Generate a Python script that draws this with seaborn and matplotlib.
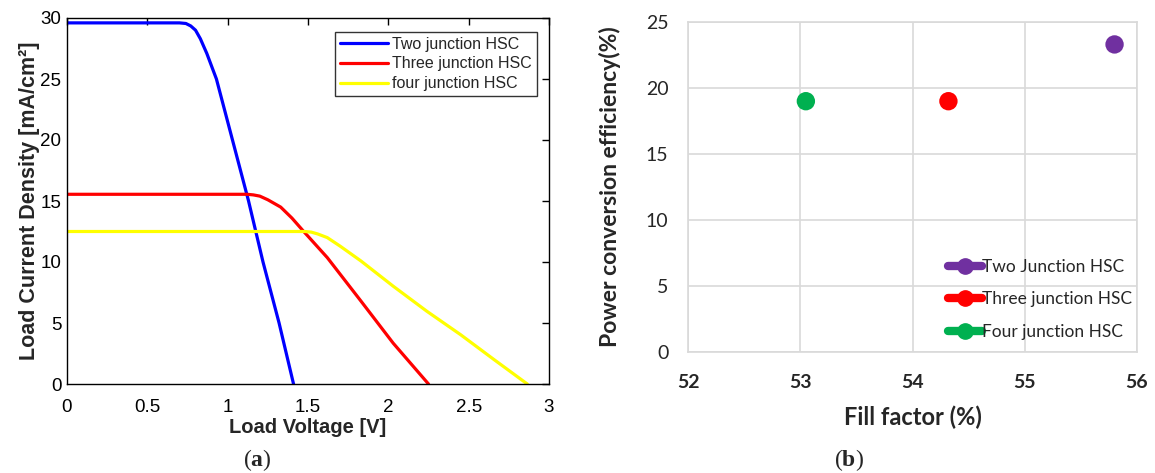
import numpy as np
import pandas as pd
import matplotlib.pyplot as plt
import seaborn as sns
from matplotlib.lines import Line2D

# (a) J-V curves
v_two = [0, 0.70, 0.74, 0.77, 0.80, 0.83, 0.87, 0.93, 1.03, 1.13, 1.22, 1.32, 1.41]
j_two = [29.6, 29.6, 29.55, 29.35, 29.0, 28.3, 27.1, 25.0, 20.0, 15.0, 10.0, 5.0, 0]

v_three = [0, 1.12, 1.16, 1.20, 1.25, 1.33, 1.40, 1.47, 1.62, 1.83, 2.03, 2.25]
j_three = [15.55, 15.55, 15.5, 15.4, 15.1, 14.5, 13.6, 12.55, 10.36, 6.79, 3.35, 0]

v_four = [0, 1.48, 1.52, 1.56, 1.62, 1.70, 1.83, 2.03, 2.24, 2.45, 2.66, 2.865]
j_four = [12.5, 12.5, 12.45, 12.3, 12.0, 11.3, 10.08, 8.02, 5.96, 4.04, 1.98, 0]

curve_labels = ['Two junction HSC', 'Three junction HSC', 'four junction HSC']
curve_colors = ['#0000ff', '#ff0000', '#ffff00']

# (b) fill factor vs efficiency
cells = ['Two Junction HSC', 'Three junction HSC', 'Four junction HSC']
fill_factor = [55.80, 54.32, 53.05]
efficiency = [23.3, 19.0, 19.0]
cell_colors = ['#7030a0', '#ff0000', '#00b050']

sns.set_theme(style='white')
plt.rcParams['font.family'] = ['Liberation Sans', 'DejaVu Sans']
plt.rcParams['mathtext.fontset'] = 'custom'
plt.rcParams['mathtext.rm'] = 'Liberation Serif'
plt.rcParams['mathtext.bf'] = 'Liberation Serif:bold'

fig = plt.figure(figsize=(11.55, 4.73), dpi=100)

# ---- panel a
ax1 = fig.add_axes([67 / 1155, 1 - 384 / 473, 482 / 1155, 366 / 473])
for v, j, lab, c in zip([v_two, v_three, v_four], [j_two, j_three, j_four],
                        curve_labels, curve_colors):
    df = pd.DataFrame({'V': v, 'J': j})
    sns.lineplot(data=df, x='V', y='J', sort=False, color=c, lw=2.3,
                 label=lab, ax=ax1)

ax1.set_xlim(0, 3)
ax1.set_ylim(0, 30)
ax1.set_xticks(np.arange(0, 3.01, 0.5))
ax1.set_xticklabels(['0', '0.5', '1', '1.5', '2', '2.5', '3'])
ax1.set_yticks(np.arange(0, 31, 5))
ax1.tick_params(direction='in', top=True, right=True, length=5, width=1,
                labelsize=13.5, colors='black')
ax1.tick_params(axis='x', pad=11)
ax1.tick_params(axis='y', pad=4)
for s in ax1.spines.values():
    s.set_color('black')
    s.set_linewidth(1.0)
ax1.set_xlabel('Load Voltage [V]', fontsize=14.5, fontweight='bold', labelpad=1)
ax1.set_ylabel('Load Current Density [mA/cm²]', fontsize=15.5,
               fontweight='bold', labelpad=0)
leg1 = ax1.legend(loc='upper right', bbox_to_anchor=(0.975, 0.962), fontsize=11.5,
                  frameon=True, fancybox=False, edgecolor='black',
                  handlelength=3.0, handletextpad=0.3, borderpad=0.3,
                  labelspacing=0.3, borderaxespad=0)
leg1.get_frame().set_linewidth(1.0)

# ---- panel b
ax2 = fig.add_axes([688 / 1155, 1 - 352 / 473, 449 / 1155, 330 / 473])
dfb = pd.DataFrame({'ff': fill_factor, 'pce': efficiency, 'cell': cells})
sns.scatterplot(data=dfb, x='ff', y='pce', hue='cell', palette=cell_colors,
                s=175, edgecolor='none', legend=False, ax=ax2, zorder=3)
ax2.set_xlim(52, 56)
ax2.set_ylim(0, 25)
ax2.set_xticks([52, 53, 54, 55, 56])
ax2.set_yticks(np.arange(0, 26, 5))
ax2.grid(True, color='#d9d9d9', lw=1.2)
for s in ax2.spines.values():
    s.set_color('#d9d9d9')
    s.set_linewidth(1.2)
ax2.tick_params(length=0, labelsize=14, colors='#262626')
ax2.tick_params(axis='y', pad=14)
ax2.tick_params(axis='x', pad=16)
for t in ax2.get_xticklabels() + ax2.get_yticklabels():
    t.set_family(['Lato', 'DejaVu Sans'])
for t in ax2.get_xticklabels():
    t.set_fontweight('bold')
ax2.set_xlabel('Fill factor (%)', fontsize=17, fontweight='bold',
               family=['Lato', 'DejaVu Sans'], labelpad=10)
ax2.set_ylabel('Power conversion efficiency(%)', fontsize=16.5, fontweight='bold',
               family=['Lato', 'DejaVu Sans'], labelpad=18)

handles = [Line2D([0], [0], color=c, lw=6, marker='o', markersize=11,
                  solid_capstyle='round') for c in cell_colors]
ax2.legend(handles, cells, loc='lower right', bbox_to_anchor=(1.025, -0.01),
           frameon=False, handlelength=2.0, handletextpad=0.0,
           labelspacing=0.95, prop={'family': ['Lato', 'DejaVu Sans'], 'size': 12.5})

# panel captions
fig.text(257 / 1155, 1 - 460 / 473, r'($\mathbf{a}$)', fontsize=17,
         family='Liberation Serif', ha='center', va='center')
fig.text(849 / 1155, 1 - 460 / 473, r'($\mathbf{b}$)', fontsize=17,
         family='Liberation Serif', ha='center', va='center')

fig.savefig('out.png', dpi=100)
